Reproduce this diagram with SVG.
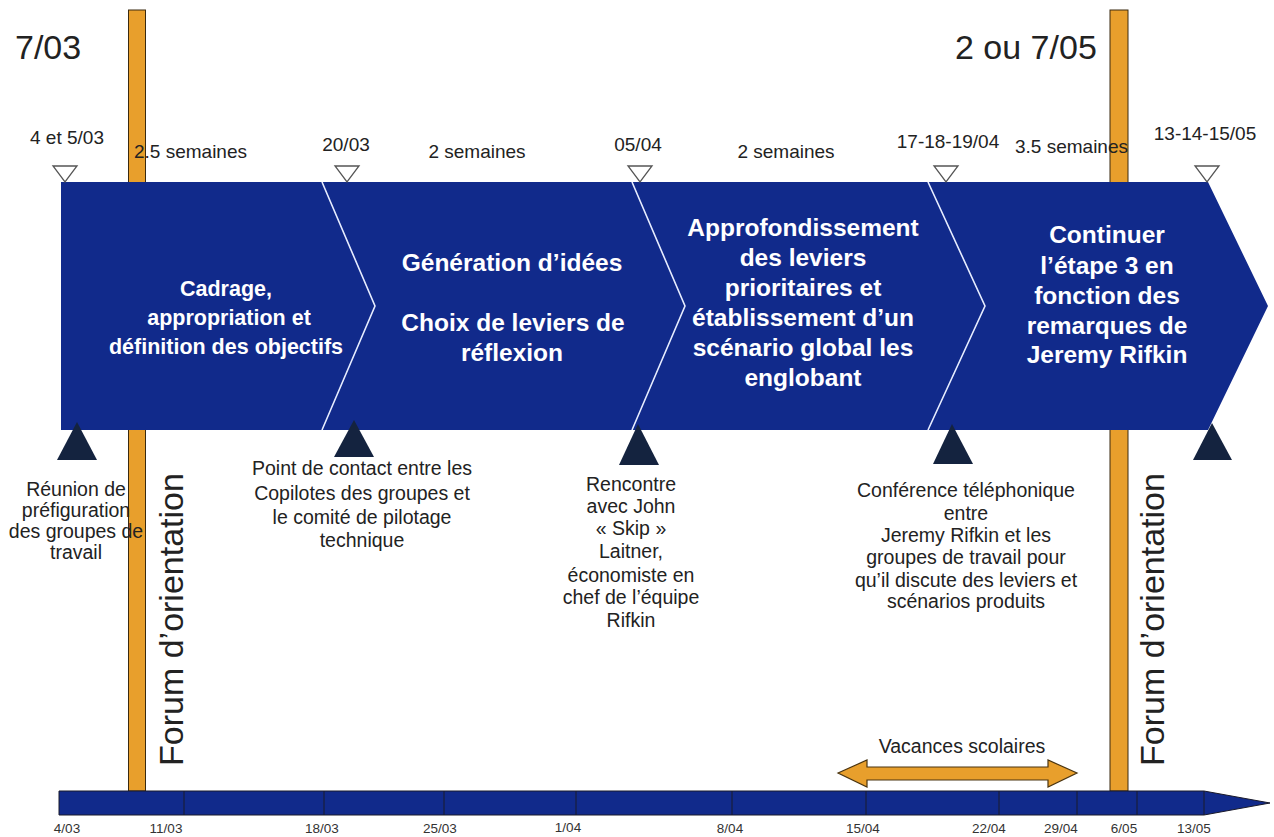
<svg xmlns="http://www.w3.org/2000/svg" width="1274" height="837" viewBox="0 0 1274 837">
<defs>
<style>
.t{font-family:"Liberation Sans",Arial,sans-serif;fill:#222;}
.s{font-size:19px;text-anchor:middle;}
.st{font-size:19px;text-anchor:start;}
.sm{font-size:19.5px;text-anchor:middle;}
.ax{font-size:13.5px;text-anchor:middle;fill:#333;font-family:"Liberation Sans",Arial,sans-serif;}
.big{font-size:34px;}
.w{font-family:"Liberation Sans",Arial,sans-serif;fill:#fff;font-weight:bold;font-size:24.5px;text-anchor:middle;}
.w1{font-size:21.5px;}
.chev{fill:#112a8b;}
.sep{fill:none;stroke:#e6ecff;stroke-width:1.6;}
.bar{fill:#e89f2c;stroke:#3a2a10;stroke-width:1;}
.hol{fill:#fff;stroke:#555;stroke-width:1.3;}
.dk{fill:#14233f;}
.tl{fill:#112a8b;stroke:#1a1a2a;stroke-width:1;}
.tick{stroke:#1a1a2a;stroke-width:1;}
</style>
</defs>
<rect width="1274" height="837" fill="#fff"/>

<g id="forum-bar-left"><rect class="bar" x="128.5" y="10" width="17" height="781"/></g>
<g id="forum-bar-right"><rect class="bar" x="1110" y="10" width="18" height="781"/></g>

<g id="phase1"><polygon class="chev" points="61,182 322,182 375,306 322,430 61,430"/>
<text class="w w1" x="226" y="296">Cadrage,</text>
<text class="w w1" x="229" y="325">appropriation et</text>
<text class="w w1" x="226" y="354">définition des objectifs</text></g>
<g id="phase2"><polygon class="chev" points="322,182 632,182 685,306 632,430 322,430 375,306"/>
<text class="w" x="512" y="271">Génération d’idées</text>
<text class="w" x="513" y="331">Choix de leviers de</text>
<text class="w" x="512" y="361">réflexion</text></g>
<g id="phase3"><polygon class="chev" points="632,182 928,182 985,306 928,430 632,430 685,306"/>
<text class="w" x="803" y="236">Approfondissement</text>
<text class="w" x="803" y="266">des leviers</text>
<text class="w" x="803" y="296">prioritaires et</text>
<text class="w" x="803" y="326">établissement d’un</text>
<text class="w" x="803" y="356">scénario global les</text>
<text class="w" x="803" y="386">englobant</text></g>
<g id="phase4"><polygon class="chev" points="928,182 1208,182 1268,306 1208,430 928,430 985,306"/>
<text class="w" x="1107" y="243">Continuer</text>
<text class="w" x="1107" y="274">l’étape 3 en</text>
<text class="w" x="1107" y="304">fonction des</text>
<text class="w" x="1107" y="334">remarques de</text>
<text class="w" x="1107" y="363">Jeremy Rifkin</text></g>

<g id="connectors">
<polyline class="sep" points="322,182 375,306 322,430"/>
<polyline class="sep" points="632,182 685,306 632,430"/>
<polyline class="sep" points="928,182 985,306 928,430"/>
</g>

<g id="top-labels">
<text class="t big" x="15" y="59">7/03</text>
<text class="t big" x="955" y="59">2 ou 7/05</text>
<text class="t s" x="67" y="144">4 et 5/03</text>
<text class="t st" x="134" y="158">2.5 semaines</text>
<text class="t s" x="346" y="151">20/03</text>
<text class="t s" x="477" y="158">2 semaines</text>
<text class="t s" x="638" y="151">05/04</text>
<text class="t s" x="786" y="158">2 semaines</text>
<text class="t s" x="948" y="148">17-18-19/04</text>
<text class="t st" x="1015" y="153">3.5 semaines</text>
<text class="t s" x="1205" y="140">13-14-15/05</text>
</g>

<g id="milestones-top">
<polygon class="hol" points="53,166 77,166 65,182"/>
<polygon class="hol" points="335,166 359,166 347,182"/>
<polygon class="hol" points="628,166 652,166 640,182"/>
<polygon class="hol" points="934,166 958,166 946,182"/>
<polygon class="hol" points="1195,166 1219,166 1207,182"/>
</g>

<g id="milestones-bottom">
<polygon class="dk" points="77,422 57,460 97,460"/>
<polygon class="dk" points="354,420 334,457 374,457"/>
<polygon class="dk" points="638,424 619,465 659,465"/>
<polygon class="dk" points="952,424 933,464 973,464"/>
<polygon class="dk" points="1212,423 1193,460 1232,460"/>
</g>

<g id="note1">
<text class="t sm" x="76" y="496">Réunion de</text>
<text class="t sm" x="76" y="517">préfiguration</text>
<text class="t sm" x="76" y="538">des groupes de</text>
<text class="t sm" x="76" y="559">travail</text>
</g>
<g id="note2">
<text class="t sm" x="362" y="475">Point de contact entre les</text>
<text class="t sm" x="362" y="500">Copilotes des groupes et</text>
<text class="t sm" x="362" y="524">le comité de pilotage</text>
<text class="t sm" x="362" y="547">technique</text>
</g>
<g id="note3">
<text class="t sm" x="631" y="491">Rencontre</text>
<text class="t sm" x="631" y="513">avec John</text>
<text class="t sm" x="631" y="535">« Skip »</text>
<text class="t sm" x="631" y="558">Laitner,</text>
<text class="t sm" x="631" y="582">économiste en</text>
<text class="t sm" x="631" y="604">chef de l’équipe</text>
<text class="t sm" x="631" y="627">Rifkin</text>
</g>
<g id="note4">
<text class="t sm" x="966" y="497">Conférence téléphonique</text>
<text class="t sm" x="966" y="520">entre</text>
<text class="t sm" x="966" y="542">Jeremy Rifkin et les</text>
<text class="t sm" x="966" y="564">groupes de travail pour</text>
<text class="t sm" x="966" y="587">qu’il discute des leviers et</text>
<text class="t sm" x="966" y="608">scénarios produits</text>
</g>

<g id="forum-left"><text class="t" font-size="34" transform="translate(183,766) rotate(-90)">Forum d’orientation</text></g>
<g id="forum-right"><text class="t" font-size="34" transform="translate(1164,766) rotate(-90)">Forum d’orientation</text></g>

<g id="vacances">
<polygon points="838,773 867,760 867,767 1048,767 1048,760 1077,773 1048,787 1048,780 867,780 867,787" fill="#e89f2c" stroke="#4a3410" stroke-width="1.2"/>
<text class="t sm" x="962" y="753">Vacances scolaires</text>
</g>

<g id="timeline">
<polygon class="tl" points="59,791 1204,791 1270,803 1204,815 59,815"/>
<line class="tick" x1="184" y1="791" x2="184" y2="815"/>
<line class="tick" x1="324" y1="791" x2="324" y2="815"/>
<line class="tick" x1="444" y1="791" x2="444" y2="815"/>
<line class="tick" x1="576" y1="791" x2="576" y2="815"/>
<line class="tick" x1="732" y1="791" x2="732" y2="815"/>
<line class="tick" x1="866" y1="791" x2="866" y2="815"/>
<line class="tick" x1="999" y1="791" x2="999" y2="815"/>
<line class="tick" x1="1077" y1="791" x2="1077" y2="815"/>
<line class="tick" x1="1137" y1="791" x2="1137" y2="815"/>
<line class="tick" x1="1204" y1="791" x2="1204" y2="815"/>
<text class="ax" x="67" y="833">4/03</text>
<text class="ax" x="166" y="833">11/03</text>
<text class="ax" x="322" y="833">18/03</text>
<text class="ax" x="440" y="833">25/03</text>
<text class="ax" x="568" y="832">1/04</text>
<text class="ax" x="730" y="833">8/04</text>
<text class="ax" x="863" y="833">15/04</text>
<text class="ax" x="989" y="833">22/04</text>
<text class="ax" x="1061" y="833">29/04</text>
<text class="ax" x="1124" y="833">6/05</text>
<text class="ax" x="1194" y="833">13/05</text>
</g>
</svg>
